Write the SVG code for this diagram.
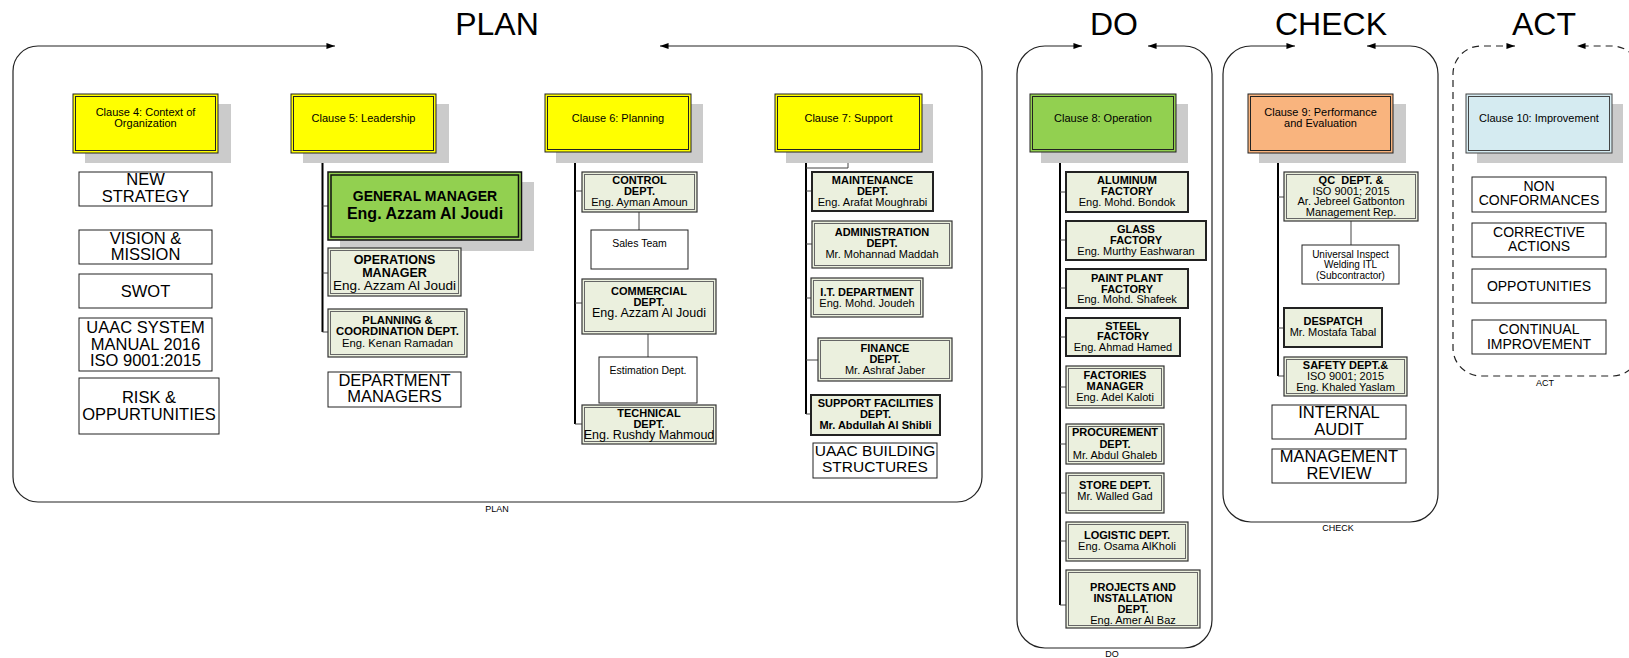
<svg xmlns="http://www.w3.org/2000/svg" width="1629" height="658" viewBox="0 0 1629 658">
<style>
text{font-family:"Liberation Sans",Arial,sans-serif;fill:#000;text-anchor:middle}
.title{font-size:32px}
.lbl{font-size:9px}
.ct{font-size:11px}
.b{font-size:11px;font-weight:bold}
.r{font-size:11px}
.wt{font-size:16.5px}
.wb{font-size:15.5px}
.wc{font-size:16.5px}
.wa{font-size:14px}
.sm{font-size:10.5px}
.us{font-size:10px}
.shadow{fill:#cbcbcb}
.cl{stroke:#222;stroke-width:1}
.in{fill:none;stroke:#222;stroke-width:1}
.dept{fill:#ebf0de;stroke:#333;stroke-width:1.2}
.dept1{fill:#ebf0de;stroke:#222;stroke-width:2}
.din{fill:none;stroke:#666;stroke-width:1}
.white{fill:#fff;stroke:#222;stroke-width:1}
.cont{fill:none;stroke:#222;stroke-width:1.2}
.dash{stroke-dasharray:7,5}
.trunk{fill:none;stroke:#000;stroke-width:2}
.br{fill:none;stroke:#444;stroke-width:1}
</style>
<defs>
<marker id="ah" viewBox="0 0 10 7" refX="10" refY="3.5" markerWidth="9" markerHeight="6" markerUnits="userSpaceOnUse" orient="auto-start-reverse"><path d="M0,0 L10,3.5 L0,7 z" fill="#000"/></marker>
</defs>

<g id="titles">
<text class="title" x="497" y="35">PLAN</text>
<text class="title" x="1114" y="35">DO</text>
<text class="title" x="1331" y="35">CHECK</text>
<text class="title" x="1544" y="35">ACT</text>
</g>

<g id="containers">
<path class="cont" marker-start="url(#ah)" marker-end="url(#ah)" d="M335,46 H38 A25,25 0 0 0 13,71 V477 A25,25 0 0 0 38,502 H957 A25,25 0 0 0 982,477 V71 A25,25 0 0 0 957,46 H660"/>
<text class="lbl" x="497" y="512">PLAN</text>
<path class="cont" marker-start="url(#ah)" marker-end="url(#ah)" d="M1082,46 H1045 A28,28 0 0 0 1017,74 V620 A28,28 0 0 0 1045,648 H1184 A28,28 0 0 0 1212,620 V74 A28,28 0 0 0 1184,46 H1148"/>
<text class="lbl" x="1112" y="657">DO</text>
<path class="cont" marker-start="url(#ah)" marker-end="url(#ah)" d="M1295,46 H1251 A28,28 0 0 0 1223,74 V494 A28,28 0 0 0 1251,522 H1410 A28,28 0 0 0 1438,494 V74 A28,28 0 0 0 1410,46 H1367"/>
<text class="lbl" x="1338" y="531">CHECK</text>
<path class="cont dash" marker-start="url(#ah)" marker-end="url(#ah)" d="M1515,46 H1481 A28,28 0 0 0 1453,74 V348 A28,28 0 0 0 1481,376 H1612 A28,28 0 0 0 1640,348 V74 A28,28 0 0 0 1612,46 H1577"/>
<text class="lbl" x="1545" y="386">ACT</text>
</g>

<g id="connectors">
<path class="trunk" d="M364,153 V157 H322.5 V332"/>
<path class="br" d="M322.5,206 H328 M322.5,273 H328 M322.5,332 H328"/>
<path class="trunk" d="M618,152 V158 H575 V424"/>
<path class="br" d="M575,191 H582 M575,303 H582 M575,424 H582"/>
<path class="br" stroke="#000" d="M639,212 V230 M648,334 V357"/>
<path class="trunk" d="M848,152 V158 H806 V414"/>
<path class="br" d="M848,158 V168 H806 M806,191 H812 M806,244 H812 M806,298 H811 M806,360 H818 M806,414 H811"/>
<path class="trunk" d="M1103,152 V157 H1060 V605"/>
<path class="br" d="M1060,192 H1066 M1060,240 H1066 M1060,288 H1066 M1060,337 H1066 M1060,387 H1066 M1060,444 H1066 M1060,493 H1066 M1060,541 H1066 M1060,605 H1066"/>
<path class="trunk" d="M1321,153 V157 H1278 V376"/>
<path class="br" d="M1278,197 H1284 M1278,328 H1284 M1278,376 H1284"/>
<path class="br" stroke="#000" d="M1351,221 V245"/>
</g>

<!-- PLAN: Clause 4 -->
<g id="clause4">
<rect class="shadow" x="85" y="104" width="146" height="59"/>
<rect class="cl" x="73" y="94" width="145" height="59" fill="#ffff00"/>
<rect class="in" x="75.5" y="96.5" width="140" height="54"/>
<text class="ct" x="145.5" y="115.7">Clause 4: Context of</text>
<text class="ct" x="145.5" y="126.7">Organization</text>
</g>
<g id="new-strategy"><rect class="white" x="79" y="172" width="133" height="34"/><text class="wt" x="145.5" y="185">NEW</text><text class="wt" x="145.5" y="202">STRATEGY</text></g>
<g id="vision"><rect class="white" x="79" y="230" width="133" height="34"/><text class="wt" x="145.5" y="243.5">VISION &amp;</text><text class="wt" x="145.5" y="260">MISSION</text></g>
<g id="swot"><rect class="white" x="79" y="274" width="133" height="34"/><text class="wt" x="145.5" y="296.5">SWOT</text></g>
<g id="uaac-system"><rect class="white" x="79" y="318" width="133" height="53"/><text class="wt" x="145.5" y="333">UAAC SYSTEM</text><text class="wt" x="145.5" y="349.5">MANUAL 2016</text><text class="wt" x="145.5" y="365.5">ISO 9001:2015</text></g>
<g id="risk"><rect class="white" x="79" y="378" width="140" height="56"/><text class="wt" x="149" y="403">RISK &amp;</text><text class="wt" x="149" y="419.5">OPPURTUNITIES</text></g>

<!-- Clause 5 -->
<g id="clause5">
<rect class="shadow" x="303" y="104" width="146" height="59"/>
<rect class="cl" x="291" y="94" width="145" height="59" fill="#ffff00"/>
<rect class="in" x="293.5" y="96.5" width="140" height="54"/>
<text class="ct" x="363.5" y="121.5">Clause 5: Leadership</text>
</g>
<g id="general-manager">
<rect class="shadow" x="340" y="182" width="194" height="69"/>
<rect x="328" y="172" width="193.5" height="68" fill="#92d050" stroke="#111" stroke-width="1.5"/>
<rect x="331" y="175" width="187.5" height="62" fill="none" stroke="#111" stroke-width="1.5"/>
<text x="425" y="201" style="font-size:14px;font-weight:bold">GENERAL MANAGER</text>
<text x="425" y="219" style="font-size:16px;font-weight:bold">Eng. Azzam Al Joudi</text>
</g>
<g id="operations-manager">
<rect class="dept" x="328" y="248" width="133" height="48"/><rect class="din" x="330.5" y="250.5" width="128" height="43"/>
<text class="b" x="394.5" y="264" style="font-size:12.5px">OPERATIONS</text><text class="b" x="394.5" y="276.5" style="font-size:12.5px">MANAGER</text><text class="r" x="394.5" y="289.5" style="font-size:13.5px">Eng. Azzam Al Joudi</text>
</g>
<g id="planning-coordination">
<rect class="dept" x="328" y="309" width="139" height="48"/><rect class="din" x="330.5" y="311.5" width="134" height="43"/>
<text class="b" x="397.5" y="324" style="font-size:11.3px">PLANNING &amp;</text><text class="b" x="397.5" y="335" style="font-size:11.3px">COORDINATION DEPT.</text><text class="r" x="397.5" y="346.5" style="font-size:11.3px">Eng. Kenan Ramadan</text>
</g>
<g id="department-managers"><rect class="white" x="328" y="372" width="133" height="35"/><text class="wt" x="394.5" y="386">DEPARTMENT</text><text class="wt" x="394.5" y="402">MANAGERS</text></g>

<!-- Clause 6 -->
<g id="clause6">
<rect class="shadow" x="556" y="104" width="147" height="59"/>
<rect class="cl" x="545" y="94" width="146" height="58" fill="#ffff00"/>
<rect class="in" x="547.5" y="96.5" width="141" height="53"/>
<text class="ct" x="618" y="121.5">Clause 6: Planning</text>
</g>
<g id="control-dept">
<rect class="dept" x="582" y="172" width="115" height="40"/><rect class="din" x="584.5" y="174.5" width="110" height="35"/>
<text class="b" x="639.5" y="184">CONTROL</text><text class="b" x="639.5" y="194.5">DEPT.</text><text class="r" x="639.5" y="205.5">Eng. Ayman Amoun</text>
</g>
<g id="sales-team"><rect class="white" x="591" y="230" width="97" height="39"/><text class="sm" x="639.5" y="247">Sales Team</text></g>
<g id="commercial-dept">
<rect class="dept" x="582" y="279" width="134" height="55"/><rect class="din" x="584.5" y="281.5" width="129" height="50"/>
<text class="b" x="649" y="295">COMMERCIAL</text><text class="b" x="649" y="306">DEPT.</text><text class="r" x="649" y="317" style="font-size:12.5px">Eng. Azzam Al Joudi</text>
</g>
<g id="estimation-dept"><rect class="white" x="599" y="357" width="98" height="46"/><text class="sm" x="648" y="373.5">Estimation Dept.</text></g>
<g id="technical-dept">
<rect class="dept" x="582" y="405" width="134" height="39"/><rect class="din" x="584.5" y="407.5" width="129" height="34"/>
<text class="b" x="649" y="416.5">TECHNICAL</text><text class="b" x="649" y="427.5">DEPT.</text><text class="r" x="649" y="438.5" style="font-size:12.5px">Eng. Rushdy Mahmoud</text>
</g>

<!-- Clause 7 -->
<g id="clause7">
<rect class="shadow" x="786" y="104" width="147" height="59"/>
<rect class="cl" x="775" y="94" width="147" height="58" fill="#ffff00"/>
<rect class="in" x="777.5" y="96.5" width="142" height="53"/>
<text class="ct" x="848.5" y="121.5">Clause 7: Support</text>
</g>
<g id="maintenance-dept">
<rect class="dept1" x="812" y="172" width="121" height="39"/>
<text class="b" x="872.5" y="184">MAINTENANCE</text><text class="b" x="872.5" y="194.5">DEPT.</text><text class="r" x="872.5" y="205.5">Eng. Arafat Moughrabi</text>
</g>
<g id="administration-dept">
<rect class="dept" x="812" y="221" width="140" height="47"/><rect class="din" x="814.5" y="223.5" width="135" height="42"/>
<text class="b" x="882" y="236">ADMINISTRATION</text><text class="b" x="882" y="247">DEPT.</text><text class="r" x="882" y="258">Mr. Mohannad Maddah</text>
</g>
<g id="it-department">
<rect class="dept" x="811" y="278" width="112" height="39"/><rect class="din" x="813.5" y="280.5" width="107" height="34"/>
<text class="b" x="867" y="296">I.T. DEPARTMENT</text><text class="r" x="867" y="307">Eng. Mohd. Joudeh</text>
</g>
<g id="finance-dept">
<rect class="dept" x="818" y="338" width="134" height="43"/><rect class="din" x="820.5" y="340.5" width="129" height="38"/>
<text class="b" x="885" y="352">FINANCE</text><text class="b" x="885" y="363">DEPT.</text><text class="r" x="885" y="374">Mr. Ashraf Jaber</text>
</g>
<g id="support-facilities">
<rect class="dept1" x="811" y="395" width="129" height="40"/>
<text class="b" x="875.5" y="407">SUPPORT FACILITIES</text><text class="b" x="875.5" y="418">DEPT.</text><text class="b" x="875.5" y="429">Mr. Abdullah Al Shibli</text>
</g>
<g id="uaac-building"><rect class="white" x="813" y="443" width="124" height="35"/><text class="wb" x="875" y="456">UAAC BUILDING</text><text class="wb" x="875" y="472">STRUCTURES</text></g>

<!-- DO -->
<g id="clause8">
<rect class="shadow" x="1041" y="104" width="147" height="59"/>
<rect class="cl" x="1030" y="94" width="146" height="58" fill="#92d050"/>
<rect class="in" x="1032.5" y="96.5" width="141" height="53"/>
<text class="ct" x="1103" y="121.5">Clause 8: Operation</text>
</g>
<g id="aluminum-factory">
<rect class="dept1" x="1066" y="172" width="122" height="40"/>
<text class="b" x="1127" y="184">ALUMINUM</text><text class="b" x="1127" y="194.5">FACTORY</text><text class="r" x="1127" y="205.5">Eng. Mohd. Bondok</text>
</g>
<g id="glass-factory">
<rect class="dept1" x="1066" y="221" width="140" height="39"/>
<text class="b" x="1136" y="233">GLASS</text><text class="b" x="1136" y="243.5">FACTORY</text><text class="r" x="1136" y="254.5">Eng. Murthy Eashwaran</text>
</g>
<g id="paint-plant-factory">
<rect class="dept1" x="1066" y="269" width="122" height="39"/>
<text class="b" x="1127" y="281.5">PAINT PLANT</text><text class="b" x="1127" y="292.5">FACTORY</text><text class="r" x="1127" y="303">Eng. Mohd. Shafeek</text>
</g>
<g id="steel-factory">
<rect class="dept1" x="1066" y="318" width="114" height="38"/>
<text class="b" x="1123" y="329.5">STEEL</text><text class="b" x="1123" y="340">FACTORY</text><text class="r" x="1123" y="351">Eng. Ahmad Hamed</text>
</g>
<g id="factories-manager">
<rect class="dept" x="1066" y="366" width="98" height="42"/><rect class="din" x="1068.5" y="368.5" width="93" height="37"/>
<text class="b" x="1115" y="378.5">FACTORIES</text><text class="b" x="1115" y="389.5">MANAGER</text><text class="r" x="1115" y="401">Eng. Adel Kaloti</text>
</g>
<g id="procurement-dept">
<rect class="dept" x="1066" y="424" width="98" height="40"/><rect class="din" x="1068.5" y="426.5" width="93" height="35"/>
<text class="b" x="1115" y="436">PROCUREMENT</text><text class="b" x="1115" y="447.5">DEPT.</text><text class="r" x="1115" y="458.5">Mr. Abdul Ghaleb</text>
</g>
<g id="store-dept">
<rect class="dept" x="1066" y="473" width="98" height="40"/><rect class="din" x="1068.5" y="475.5" width="93" height="35"/>
<text class="b" x="1115" y="489">STORE DEPT.</text><text class="r" x="1115" y="500">Mr. Walled Gad</text>
</g>
<g id="logistic-dept">
<rect class="dept" x="1066" y="522" width="122" height="39"/><rect class="din" x="1068.5" y="524.5" width="117" height="34"/>
<text class="b" x="1127" y="538.5">LOGISTIC DEPT.</text><text class="r" x="1127" y="550">Eng. Osama AlKholi</text>
</g>
<g id="projects-installation">
<rect class="dept" x="1066" y="570" width="134" height="58"/><rect class="din" x="1068.5" y="572.5" width="129" height="53"/>
<text class="b" x="1133" y="591">PROJECTS AND</text><text class="b" x="1133" y="602">INSTALLATION</text><text class="b" x="1133" y="613">DEPT.</text><text class="r" x="1133" y="623.5">Eng. Amer Al Baz</text>
</g>

<!-- CHECK -->
<g id="clause9">
<rect class="shadow" x="1259" y="104" width="147" height="59"/>
<rect class="cl" x="1248" y="94" width="145" height="59" fill="#f9b47e"/>
<rect class="in" x="1250.5" y="96.5" width="140" height="54"/>
<text class="ct" x="1320.5" y="115.7">Clause 9: Performance</text>
<text class="ct" x="1320.5" y="126.7">and Evaluation</text>
</g>
<g id="qc-dept">
<rect class="dept" x="1284" y="172" width="134" height="49"/><rect class="din" x="1286.5" y="174.5" width="129" height="44"/>
<text class="b" x="1351" y="183.5" xml:space="preserve">QC  DEPT. &amp;</text><text class="r" x="1351" y="194.5">ISO 9001; 2015</text><text class="r" x="1351" y="205">Ar. Jebreel Gatbonton</text><text class="r" x="1351" y="216">Management Rep.</text>
</g>
<g id="universal-inspect"><rect class="white" x="1302" y="245" width="97" height="39"/><text class="us" x="1350.5" y="257.5">Universal Inspect</text><text class="us" x="1350.5" y="268">Welding ITL</text><text class="us" x="1350.5" y="278.5">(Subcontractor)</text></g>
<g id="despatch">
<rect class="dept1" x="1284" y="308" width="98" height="39"/>
<text class="b" x="1333" y="324.5">DESPATCH</text><text class="r" x="1333" y="335.5">Mr. Mostafa Tabal</text>
</g>
<g id="safety-dept">
<rect class="dept" x="1284" y="357" width="123" height="39"/><rect class="din" x="1286.5" y="359.5" width="118" height="34"/>
<text class="b" x="1345.5" y="368.5">SAFETY DEPT.&amp;</text><text class="r" x="1345.5" y="379.5">ISO 9001; 2015</text><text class="r" x="1345.5" y="390.5">Eng. Khaled Yaslam</text>
</g>
<g id="internal-audit"><rect class="white" x="1272" y="405" width="134" height="34"/><text class="wc" x="1339" y="418">INTERNAL</text><text class="wc" x="1339" y="434.5">AUDIT</text></g>
<g id="management-review"><rect class="white" x="1272" y="449" width="134" height="34"/><text class="wc" x="1339" y="462">MANAGEMENT</text><text class="wc" x="1339" y="478.5">REVIEW</text></g>

<!-- ACT -->
<g id="clause10">
<rect class="shadow" x="1477" y="104" width="146" height="59"/>
<rect x="1466" y="94" width="146" height="59" fill="#d5ebf1" stroke="#444" stroke-width="1"/>
<rect x="1468.5" y="96.5" width="141" height="54" fill="none" stroke="#444" stroke-width="1"/>
<text class="ct" x="1539" y="121.5">Clause 10: Improvement</text>
</g>
<g id="non-conformances"><rect class="white" x="1472" y="177" width="134" height="35"/><text class="wa" x="1539" y="191">NON</text><text class="wa" x="1539" y="205">CONFORMANCES</text></g>
<g id="corrective-actions"><rect class="white" x="1472" y="223" width="134" height="34"/><text class="wa" x="1539" y="237">CORRECTIVE</text><text class="wa" x="1539" y="251">ACTIONS</text></g>
<g id="oppotunities"><rect class="white" x="1472" y="269" width="134" height="34"/><text class="wa" x="1539" y="290.5">OPPOTUNITIES</text></g>
<g id="continual-improvement"><rect class="white" x="1472" y="320" width="134" height="34"/><text class="wa" x="1539" y="334">CONTINUAL</text><text class="wa" x="1539" y="348.5">IMPROVEMENT</text></g>
</svg>
